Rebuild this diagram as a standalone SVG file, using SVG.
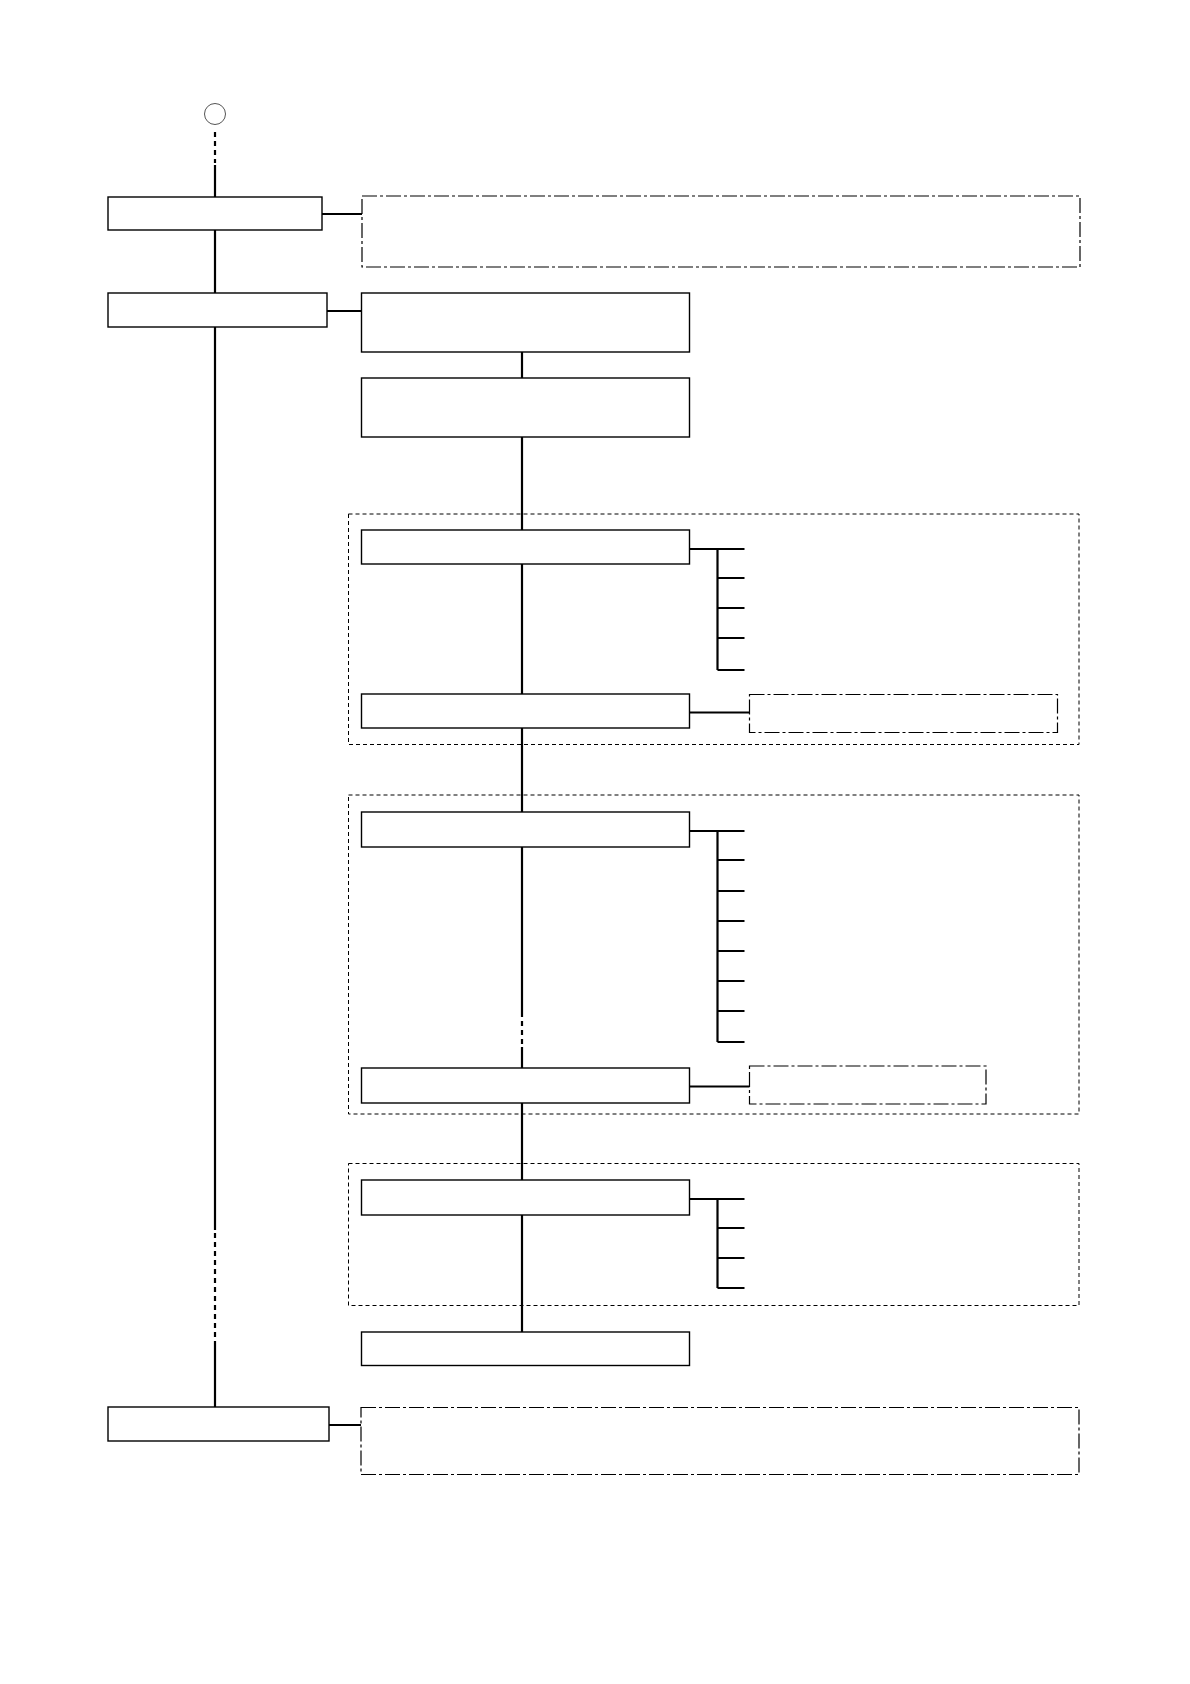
<svg xmlns="http://www.w3.org/2000/svg" width="1190" height="1684" viewBox="0 0 1190 1684">
<style>
.box{fill:#fff;stroke:#000;stroke-width:1.4}
.dd{fill:none;stroke:#000;stroke-width:1.2;stroke-dasharray:15 3 3 3}
.grp{fill:none;stroke:#000;stroke-width:1;stroke-dasharray:4 3}
.ln{fill:none;stroke:#000;stroke-width:2.2}
.dl{fill:none;stroke:#000;stroke-width:2.2;stroke-dasharray:5 4}
</style>
<rect width="1190" height="1684" fill="#fff"/>
<g id="groups">
<rect id="group1" class="grp" x="348.5" y="514" width="730.5" height="230.5"/>
<rect id="group2" class="grp" x="348.5" y="795" width="730.5" height="319"/>
<rect id="group3" class="grp" x="348.5" y="1163.5" width="730.5" height="142"/>
</g>
<g id="connectors">
<path class="dl" d="M215 132V163"/>
<path class="ln" d="M215 165V197M215 230V293M215 327V1230M215 1346V1407"/>
<path class="dl" d="M215 1233V1346"/>
<path class="ln" d="M322 214H362M327 311H361M329 1425H361"/>
<path class="ln" d="M522 352V378M522 437V530M522 564V694M522 728V812M522 847V1017M522 1047V1068M522 1103V1180M522 1215V1332"/>
<path class="dl" d="M522 1021V1047"/>
<path class="ln" d="M689.5 549H744.5M717.5 549V670M717.5 578H744.5M717.5 608H744.5M717.5 638H744.5M717.5 670H744.5"/>
<path class="ln" d="M689.5 712.5H749.5"/>
<path class="ln" d="M689.5 831H744.5M717.5 831V1042M717.5 860H744.5M717.5 891H744.5M717.5 921H744.5M717.5 951H744.5M717.5 981H744.5M717.5 1011H744.5M717.5 1042H744.5"/>
<path class="ln" d="M689.5 1086.5H749.5"/>
<path class="ln" d="M689.5 1199H744.5M717.5 1199V1288M717.5 1228H744.5M717.5 1258H744.5M717.5 1288H744.5"/>
</g>
<g id="start"><circle cx="215" cy="114" r="10.5" fill="#fff" stroke="#555" stroke-width="1"/></g>
<g id="nodeA"><rect class="box" x="108" y="197" width="214" height="33"/></g>
<g id="noteA"><rect class="dd" x="362" y="196" width="718" height="71"/></g>
<g id="nodeB"><rect class="box" x="108" y="293" width="219" height="34"/></g>
<g id="nodeC"><rect class="box" x="361.5" y="293" width="328" height="59"/></g>
<g id="nodeD"><rect class="box" x="361.5" y="378" width="328" height="59"/></g>
<g id="nodeE"><rect class="box" x="361.5" y="530" width="328" height="34"/></g>
<g id="nodeF"><rect class="box" x="361.5" y="694" width="328" height="34"/></g>
<g id="noteF"><rect class="dd" x="749.5" y="694.5" width="308" height="38"/></g>
<g id="nodeG"><rect class="box" x="361.5" y="812" width="328" height="35"/></g>
<g id="nodeH"><rect class="box" x="361.5" y="1068" width="328" height="35"/></g>
<g id="noteH"><rect class="dd" x="749.5" y="1066" width="236.5" height="38"/></g>
<g id="nodeI"><rect class="box" x="361.5" y="1180" width="328" height="35"/></g>
<g id="nodeJ"><rect class="box" x="361.5" y="1332" width="328" height="33.5"/></g>
<g id="nodeK"><rect class="box" x="108" y="1407" width="221" height="34"/></g>
<g id="noteK"><rect class="dd" x="361" y="1407.5" width="718" height="67"/></g>
</svg>
